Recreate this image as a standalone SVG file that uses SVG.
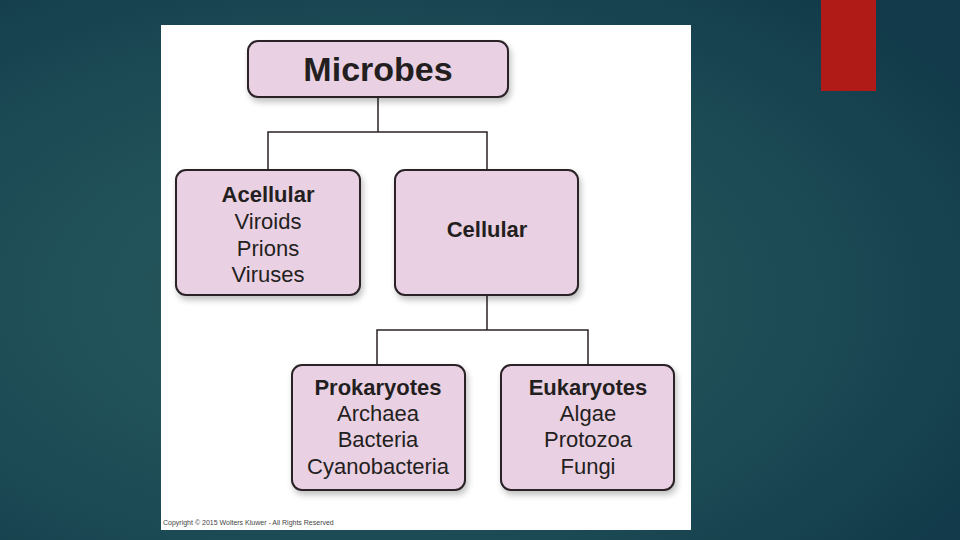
<svg xmlns="http://www.w3.org/2000/svg" width="960" height="540" viewBox="0 0 960 540">
<defs>
<radialGradient id="bg" cx="0.38" cy="0.55" r="0.75">
<stop offset="0" stop-color="#2b5c5f"/>
<stop offset="0.6" stop-color="#1c4b55"/>
<stop offset="1" stop-color="#123a4a"/>
</radialGradient>
<filter id="sh" x="-10%" y="-10%" width="130%" height="140%">
<feGaussianBlur in="SourceAlpha" stdDeviation="3"/>
<feOffset dx="2" dy="4"/>
<feComponentTransfer><feFuncA type="linear" slope="0.25"/></feComponentTransfer>
<feMerge><feMergeNode/><feMergeNode in="SourceGraphic"/></feMerge>
</filter>
</defs>
<style>
.box{fill:#ead0e3;stroke:#2a2226;stroke-width:2;filter:url(#sh)}
.t{font-family:"Liberation Sans",Arial,Helvetica,sans-serif;font-size:22px;fill:#231f20;text-anchor:middle}
.b{font-weight:bold}
.ln{fill:none;stroke:#2a2226;stroke-width:1.5}
</style>
<rect width="960" height="540" fill="url(#bg)"/>
<rect x="821" y="0" width="55" height="91" fill="#b01a17"/>
<rect x="161" y="25" width="530" height="505" fill="#ffffff"/>
<g id="connectors">
<path class="ln" d="M378 97V132M268 170V132H487V170"/>
<path class="ln" d="M487 295V330M377 365V330H588V365"/>
</g>
<g id="microbes">
<rect class="box" x="248" y="41" width="260" height="56" rx="10"/>
<text class="t b" x="378" y="81" style="font-size:34px">Microbes</text>
</g>
<g id="acellular">
<rect class="box" x="176" y="170" width="184" height="125" rx="10"/>
<text class="t b" x="268" y="202">Acellular</text>
<text class="t" x="268" y="229">Viroids</text>
<text class="t" x="268" y="256">Prions</text>
<text class="t" x="268" y="282">Viruses</text>
</g>
<g id="cellular">
<rect class="box" x="395" y="170" width="183" height="125" rx="10"/>
<text class="t b" x="487" y="237">Cellular</text>
</g>
<g id="prokaryotes">
<rect class="box" x="292" y="365" width="173" height="125" rx="10"/>
<text class="t b" x="378" y="395">Prokaryotes</text>
<text class="t" x="378" y="421">Archaea</text>
<text class="t" x="378" y="447">Bacteria</text>
<text class="t" x="378" y="474">Cyanobacteria</text>
</g>
<g id="eukaryotes">
<rect class="box" x="501" y="365" width="173" height="125" rx="10"/>
<text class="t b" x="588" y="395">Eukaryotes</text>
<text class="t" x="588" y="421">Algae</text>
<text class="t" x="588" y="447">Protozoa</text>
<text class="t" x="588" y="474">Fungi</text>
</g>
<text x="163" y="525" font-family="Liberation Sans, Arial, sans-serif" font-size="7" fill="#444">Copyright © 2015 Wolters Kluwer - All Rights Reserved</text>
</svg>
